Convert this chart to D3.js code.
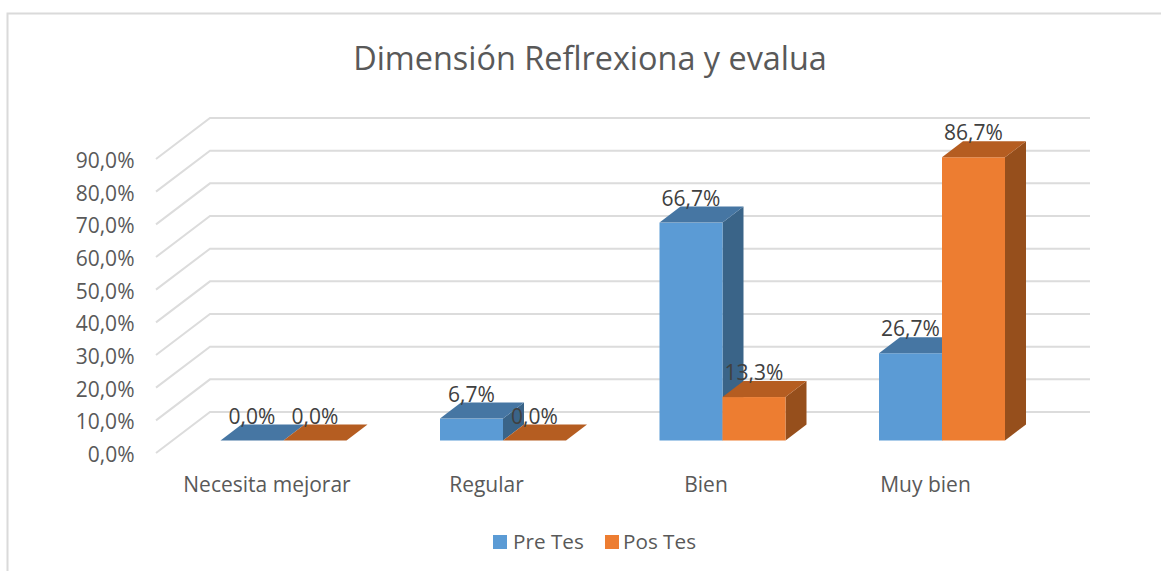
<!DOCTYPE html>
<html><head><meta charset="utf-8">
<script src="https://cdn.jsdelivr.net/npm/d3@7/dist/d3.min.js"></script>
<style>html,body{margin:0;padding:0;background:#fff}svg{display:block}text{font-family:"Open Sans",sans-serif}</style>
</head><body><svg id="c" width="1161" height="571"></svg>
<script>
const categories = ["Necesita mejorar","Regular","Bien","Muy bien"];
const seriesNames = ["Pre Tes","Pos Tes"];
const preTes = [0.0,6.7,66.7,26.7];
const posTes = [0.0,0.0,13.3,86.7];
const ticks = [0,10,20,30,40,50,60,70,80,90];
const colors = [{front:"#5B9BD5",top:"#4676A3",side:"#3A6488"},{front:"#ED7D31",top:"#B55D21",side:"#964F1C"}];
const fmt = v => v.toFixed(1).replace(".",",") + "%";

const svg = d3.select("#c");
svg.append("path").attr("d","M7.5 571V13.5H1161").attr("fill","none").attr("stroke","#dadada").attr("stroke-width",2);

const h = d3.scaleLinear().domain([0,90]).range([0,294]);
const x0 = d3.scaleBand().domain(categories).range([173.75,1051.75]);
const x1 = d3.scaleBand().domain(seriesNames).range([0,126]);
const floorFront = 453, wallDx = 54, wallDy = 41, leftX = 156, rightBack = 1090;
const barBase = 440.5, depthDx = 21, depthDy = 16;

const grid = svg.append("g");
ticks.forEach(t=>{
  const yf = floorFront - h(t), yb = yf - wallDy;
  grid.append("path")
    .attr("d",`M${leftX} ${yf}L${leftX+wallDx} ${yb}H${rightBack}`)
    .attr("fill","none").attr("stroke","#dcdcdc").attr("stroke-width",2);
  svg.append("text").attr("x",134.5).attr("y",yf+9).attr("text-anchor","end")
    .attr("font-size",21).attr("fill","#595959").text(fmt(t));
});

const bars = svg.append("g"), labels = svg.append("g");
categories.forEach((c,i)=>{
  const cx = x0(c)+x0.bandwidth()/2;
  [preTes,posTes].forEach((vals,s)=>{
    const v = vals[i], col = colors[s];
    const l = cx - x1.range()[1]/2 + x1(seriesNames[s]), w = x1.bandwidth(), top = barBase - h(v);
    if (v>0){
      bars.append("path").attr("fill",col.side)
        .attr("d",`M${l+w} ${barBase}V${top}l${depthDx} ${-depthDy}V${barBase-depthDy}Z`);
      bars.append("rect").attr("x",l).attr("y",top).attr("width",w).attr("height",h(v)).attr("fill",col.front);
    }
    bars.append("path").attr("fill",col.top)
      .attr("d",`M${l} ${top}h${w}l${depthDx} ${-depthDy}h${-w}Z`);
    labels.append("text").attr("x",l+w/2).attr("y",top-17).attr("text-anchor","middle")
      .attr("font-size",21).attr("fill","#404040").text(fmt(v));
  });
  svg.append("text").attr("x",cx-16.5).attr("y",491.5).attr("text-anchor","middle")
    .attr("font-size",21).attr("fill","#595959").text(c);
});

svg.append("text").attr("x",590).attr("y",70).attr("text-anchor","middle")
  .attr("font-size",32.4).attr("fill","#595959").text("Dimensión Reflrexiona y evalua");

const legendX = [493,605];
seriesNames.forEach((n,i)=>{
  svg.append("rect").attr("x",legendX[i]).attr("y",535).attr("width",14).attr("height",14).attr("fill",colors[i].front);
  svg.append("text").attr("x",legendX[i]+(i?18:20)).attr("y",549).attr("font-size",20.7).attr("fill","#595959").text(n);
});
</script></body></html>
